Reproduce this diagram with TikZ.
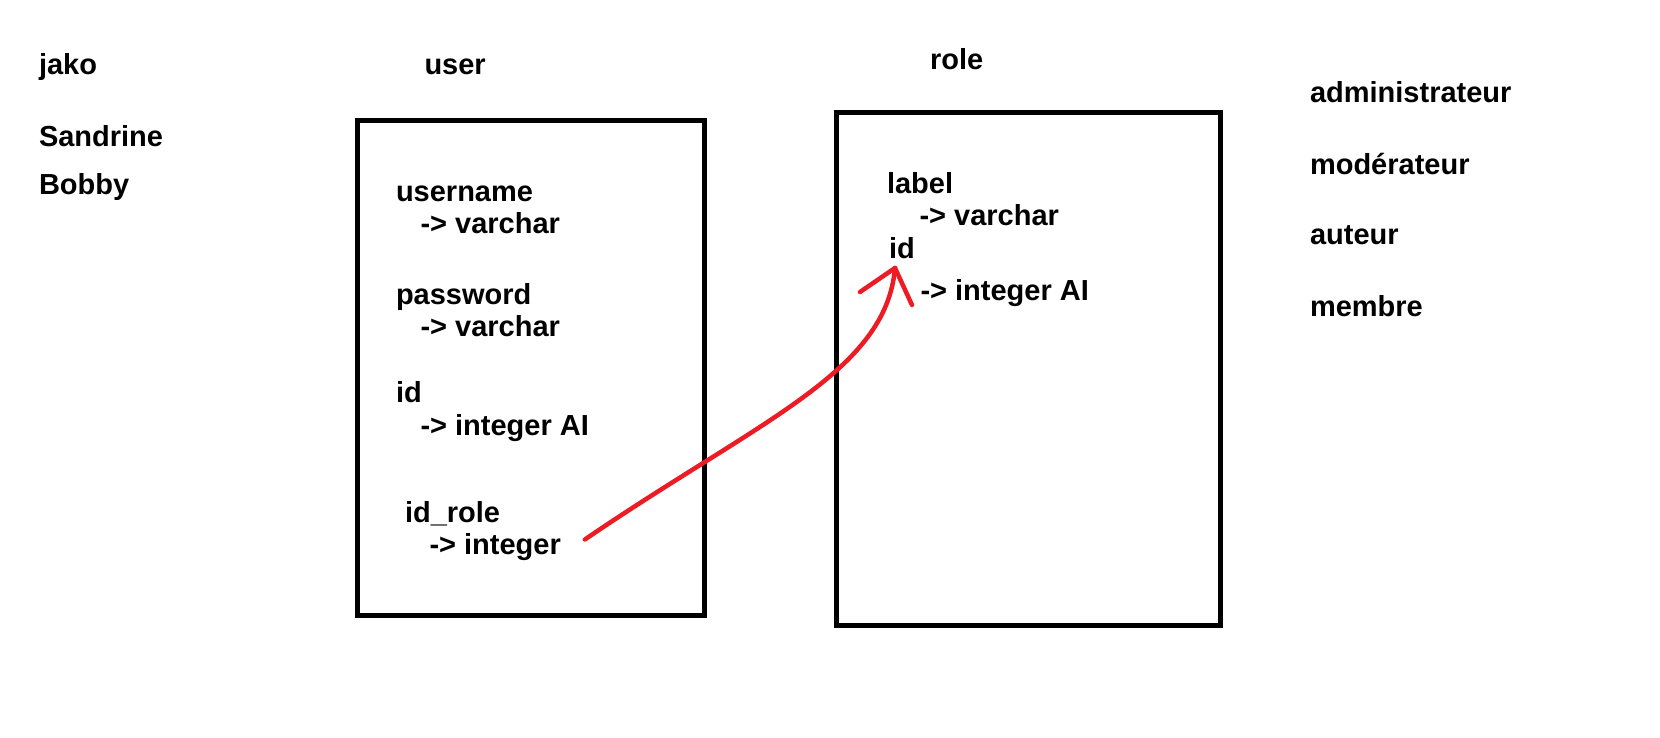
\documentclass[tikz,border=0pt]{standalone}
\usepackage{fontspec}
\setmainfont{Liberation Sans}
\definecolor{paintred}{RGB}{237,28,36}
\begin{document}
\begin{tikzpicture}[x=1pt,y=-1pt,
  txt/.style={anchor=base west, inner sep=0pt, outer sep=0pt,
    font=\fontsize{29}{33}\selectfont\bfseries},
  table/.style={draw=black, line width=5pt, rectangle, inner sep=0pt, outer sep=0pt},
  link/.style={draw=paintred, line width=4.5pt, line cap=round, line join=round}]
\useasboundingbox (0,0) rectangle (1660,737);
% left names
\node[txt] (jako) at (39,74) {jako};
\node[txt] (sandrine) at (39,146) {Sandrine};
\node[txt] (bobby) at (39,194.5) {Bobby};
% titles
\node[txt] (usertitle) at (424.5,74) {user};
\node[txt] (roletitle) at (930,69.5) {role};
% role values
\node[txt] (admin) at (1310,102) {administrateur};
\node[txt] (modo) at (1310,174) {modérateur};
\node[txt] (auteur) at (1310,244) {auteur};
\node[txt] (membre) at (1310,316) {membre};
% tables
\node[table, minimum width=347pt, minimum height=495pt] (userbox) at (531,368) {};
\node[table, minimum width=383.5pt, minimum height=513pt] (rolebox) at (1028.25,369) {};
% user fields
\node[txt] (uname) at (396,201) {username};
\node[txt] (unametype) at (420.5,233.5) {-> varchar};
\node[txt] (upass) at (396,304) {password};
\node[txt] (upasstype) at (420.5,336) {-> varchar};
\node[txt] (uid) at (396,402.5) {id};
\node[txt] (uidtype) at (420.5,435) {-> integer AI};
\node[txt] (uidrole) at (405,522.5) {id\_role};
\node[txt] (uidroletype) at (429.5,554.5) {-> integer};
% role fields
\node[txt] (rlabel) at (887,193.5) {label};
\node[txt] (rlabeltype) at (919.5,225.5) {-> varchar};
\node[txt] (rid) at (889,258) {id};
\node[txt] (ridtype) at (920.5,300) {-> integer AI};
% connector
\coordinate (start) at ([xshift=24pt,yshift=15pt]uidroletype.base east);
\coordinate (tip) at ([xshift=6pt,yshift=-10pt]rid.base west);
\draw[link] (start) .. controls (760,420) and (886,372) .. (tip);
\draw[link] (tip) -- ++(-35,24);
\draw[link] (tip) -- ++(17,37);
\end{tikzpicture}
\end{document}
